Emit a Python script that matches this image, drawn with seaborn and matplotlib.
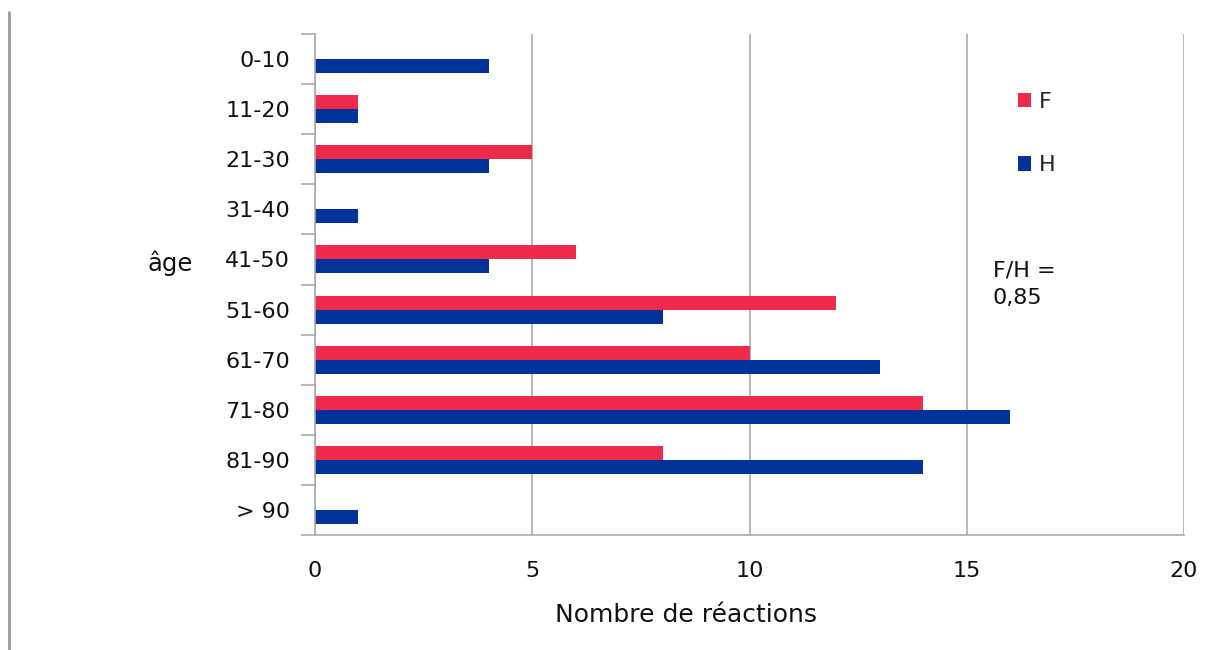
import matplotlib
matplotlib.use("Agg")
import matplotlib.pyplot as plt
from matplotlib.lines import Line2D
from matplotlib.patches import Patch
import seaborn as sns
import pandas as pd

# Age groups and number of reactions per sex
age_groups = ["0-10", "11-20", "21-30", "31-40", "41-50",
              "51-60", "61-70", "71-80", "81-90", "> 90"]
femmes = [0, 1, 5, 0, 6, 12, 10, 14, 8, 0]
hommes = [4, 1, 4, 1, 4, 8, 13, 16, 14, 1]
series_names = ["F", "H"]
series_colors = ["#EE2B4B", "#00329A"]
x_ticks = [0, 5, 10, 15, 20]
ratio_text = "F/H =\n0,85"

df = pd.DataFrame({
    "age": age_groups * 2,
    "n": femmes + hommes,
    "sexe": ["F"] * len(age_groups) + ["H"] * len(age_groups),
})

sns.set_theme(style="white")
plt.rcParams["font.family"] = ["DejaVu Sans"]

W, H = 1211, 650
fig = plt.figure(figsize=(W / 100, H / 100), dpi=100)
ax = fig.add_axes([315 / W, 1 - 535 / H, (1184 - 315) / W, (535 - 34) / H])

sns.barplot(data=df, y="age", x="n", hue="sexe", order=age_groups,
            hue_order=series_names, palette=series_colors, orient="h",
            width=0.56, saturation=1, ax=ax, legend=False, linewidth=0)

ax.set_xlim(0, 20)
ax.set_ylim(len(age_groups) - 0.5, -0.5)
ax.set_xticks(x_ticks)
ax.set_xticklabels([str(t) for t in x_ticks], fontsize=16, color="#111111")
ax.tick_params(axis="x", which="major", direction="out", length=6,
               color="#AAAAAA", width=1.2, pad=13)

# category labels without ticks, boundary ticks as minor ticks
ax.set_yticks(range(len(age_groups)))
ax.set_yticklabels(age_groups, fontsize=16, color="#111111")
ax.tick_params(axis="y", which="major", length=0, pad=18)
ax.set_yticks([i - 0.5 for i in range(len(age_groups) + 1)], minor=True)
ax.tick_params(axis="y", which="minor", direction="out", length=10,
               color="#AAAAAA", width=1.2, left=True)

ax.grid(axis="x", color="#AAAAAA", linewidth=1.2)
ax.set_axisbelow(True)
for side in ["top", "right"]:
    ax.spines[side].set_visible(False)
for side in ["left", "bottom"]:
    ax.spines[side].set_color("#AAAAAA")
    ax.spines[side].set_linewidth(1.2)

ax.set_xlabel("Nombre de réactions", fontsize=18, color="#111111")
ax.xaxis.set_label_coords((686 - 315) / (1184 - 315), -(615 - 535) / (535 - 34))
ax.xaxis.label.set_va("center")
ax.set_ylabel("")
fig.text(170 / W, 1 - 263 / H, "âge", fontsize=17.5, color="#111111",
         ha="center", va="center")

handles = [Patch(facecolor=c, edgecolor="none") for c in series_colors]
leg = ax.legend(handles, series_names, loc="upper left",
                bbox_to_anchor=(998 / W, 1 - 72 / H),
                bbox_transform=fig.transFigure, frameon=False, fontsize=16,
                handlelength=0.6, handleheight=0.6, handletextpad=0.35,
                labelspacing=1.95)

fig.text(993 / W, 1 - 284 / H, ratio_text, fontsize=16, color="#111111",
         ha="left", va="center", linespacing=1.45)

# page border at the left
fig.add_artist(Line2D([9 / W, 9 / W], [0, 1 - 12 / H],
                      transform=fig.transFigure, color="#999999", linewidth=2))

fig.savefig("out.png", dpi=100)
